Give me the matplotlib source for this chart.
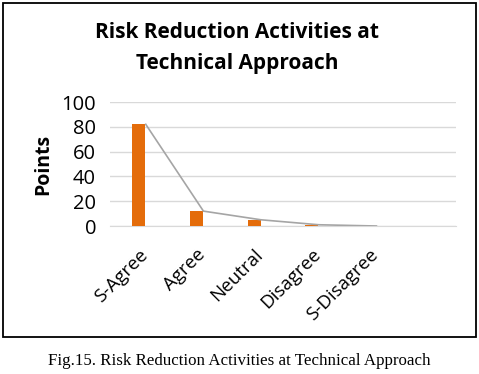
import matplotlib.pyplot as plt
import numpy as np
from matplotlib.patches import Rectangle

# Data
categories = ['S-Agree', 'Agree', 'Neutral', 'Disagree', 'S-Disagree', '']
points = [82, 12, 5, 1, 0]
yticks = [0, 20, 40, 60, 80, 100]

fig = plt.figure(figsize=(4.79, 3.74), dpi=100)

# chart frame
fig.patches.append(Rectangle((3 / 479, 1 - 337 / 374), 473 / 479, 334 / 374,
                             transform=fig.transFigure, fill=False,
                             edgecolor='black', linewidth=1.3))

ax = fig.add_axes([110 / 479, 1 - 226 / 374, 346 / 479, 124 / 374])
x = np.arange(len(categories))
ax.bar(x[:len(points)], points, width=0.23, color='#E46C0A', zorder=3)
ax.plot(x[:len(points)] + 0.12, points, color='#A5A5A5', linewidth=1.2, zorder=4)

ax.set_xlim(-0.5, len(categories) - 0.5)
ax.set_ylim(0, 100)
ax.set_yticks(yticks)
ax.yaxis.grid(True, color='#D9D9D9', linewidth=1)
ax.set_axisbelow(True)
for s in ['top', 'right', 'left']:
    ax.spines[s].set_visible(False)
ax.spines['bottom'].set_color('#D9D9D9')
ax.tick_params(axis='both', length=0)
ax.tick_params(axis='y', labelsize=14.5, pad=10)
ax.tick_params(axis='x', pad=14)
ax.set_xticks(x)
ax.set_xticklabels(categories, rotation=45, ha='right', rotation_mode='anchor',
                   fontsize=13.5, family='Open Sans')
for lab in ax.get_yticklabels():
    lab.set_family('Open Sans')
ax.set_ylabel('Points', fontsize=14, fontweight='bold', family='Open Sans', labelpad=6)

fig.text(0.495, 1 - 33 / 374, 'Risk Reduction Activities at', ha='center', va='center',
         fontsize=15, fontweight='bold', family='Open Sans')
fig.text(0.495, 1 - 63 / 374, 'Technical Approach', ha='center', va='center',
         fontsize=15, fontweight='bold', family='Open Sans')

fig.text(0.5, 1 - 361 / 374, 'Fig.15. Risk Reduction Activities at Technical Approach',
         ha='center', va='center', fontsize=12.2, family='Liberation Serif')

fig.savefig('out.png', dpi=100)
